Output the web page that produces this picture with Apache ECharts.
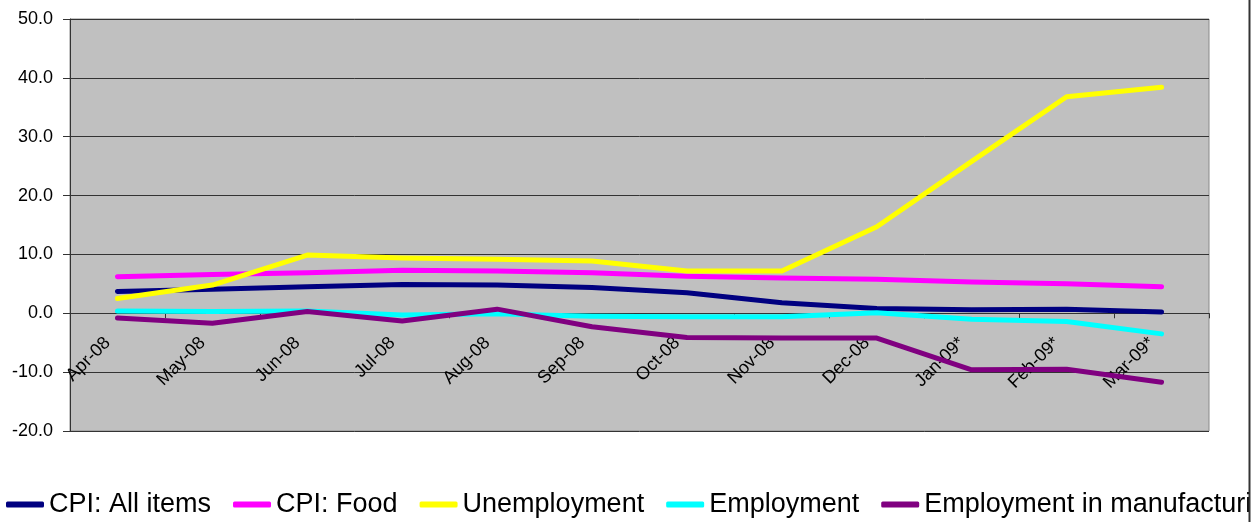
<!DOCTYPE html>
<html>
<head>
<meta charset="utf-8">
<script src="https://cdn.jsdelivr.net/npm/echarts@6/dist/echarts.min.js"></script>
<style>
html,body{margin:0;padding:0;background:#fff;}
#chart{width:1255px;height:522px;}
</style>
</head>
<body>
<div id="chart"></div>
<script>
const categories = ['Apr-08','May-08','Jun-08','Jul-08','Aug-08','Sep-08','Oct-08','Nov-08','Dec-08','Jan-09*','Feb-09*','Mar-09*'];
const cpiAll = [3.7, 4.1, 4.5, 4.9, 4.8, 4.4, 3.5, 1.8, 0.8, 0.6, 0.7, 0.2];
const cpiFood = [6.2, 6.6, 6.9, 7.3, 7.2, 6.9, 6.3, 6.0, 5.8, 5.3, 5.0, 4.5];
const unemployment = [2.5, 4.8, 9.9, 9.4, 9.2, 8.9, 7.2, 7.2, 14.7, 25.8, 36.8, 38.4];
const employment = [0.4, 0.3, 0.4, -0.3, -0.1, -0.5, -0.6, -0.6, 0.1, -1.0, -1.4, -3.5];
const employmentManuf = [-0.8, -1.7, 0.3, -1.3, 0.7, -2.3, -4.1, -4.2, -4.2, -9.6, -9.5, -11.7];
const yTickMin = -20, yTickMax = 50, yTickStep = 10;
const seriesNames = ['CPI: All items','CPI: Food','Unemployment','Employment','Employment in manufacturing'];
const seriesColors = ['#000080','#ff00ff','#ffff00','#00ffff','#800080'];
const seriesData = [cpiAll, cpiFood, unemployment, employment, employmentManuf];

const FONT = "'Liberation Sans', Arial, sans-serif";
const GRID_TOP = 19, GRID_BOTTOM = 91, H = 522;
const plotH = H - GRID_TOP - GRID_BOTTOM;
// move the category axis (with its labels) up to the zero line
const zeroOffset = -plotH * (0 - yTickMin) / (yTickMax - yTickMin);

const chart = echarts.init(document.getElementById('chart'), null, {renderer:'canvas'});
chart.setOption({
  animation: false,
  backgroundColor: '#ffffff',
  grid: {
    left: 70, top: GRID_TOP, right: 46, bottom: GRID_BOTTOM,
    show: true, backgroundColor: '#c0c0c0', borderColor: '#8a8a8a', borderWidth: 1
  },
  legend: {
    left: 6, top: 491, width: 3000, padding: 0,
    itemWidth: 38, itemHeight: 6, itemGap: 22,
    icon: 'roundRect',
    data: seriesNames,
    textStyle: {fontFamily: FONT, fontSize: 27, color: '#000'}
  },
  xAxis: {
    type: 'category',
    data: categories,
    boundaryGap: true,
    offset: zeroOffset,
    axisLine: {onZero: false, lineStyle: {color: '#333', width: 1}},
    axisTick: {show: true, interval: 0, length: 5, lineStyle: {color: '#333'}},
    axisLabel: {interval: 0, rotate: 45, margin: 17, padding: [0, 14, 0, 0], fontFamily: FONT, fontSize: 18, color: '#000'},
    splitLine: {show: false}
  },
  yAxis: {
    type: 'value',
    min: yTickMin, max: yTickMax, interval: yTickStep,
    axisLine: {show: true, lineStyle: {color: '#333', width: 1}},
    axisTick: {show: true, length: 7, lineStyle: {color: '#333'}},
    axisLabel: {margin: 17, fontFamily: FONT, fontSize: 18, color: '#000', formatter: v => v.toFixed(1)},
    splitLine: {show: true, lineStyle: {color: '#333', width: 1}}
  },
  series: seriesNames.map((n, i) => ({
    name: n,
    type: 'line',
    data: seriesData[i],
    symbol: 'none',
    color: seriesColors[i],
    lineStyle: {width: 5, color: seriesColors[i], cap: 'round', join: 'round'}
  })),
  graphic: [
    {type: 'rect', z: 100, shape: {x: 1250, y: 0, width: 10, height: 522}, style: {fill: '#ffffff'}},
    {type: 'line', z: 101, shape: {x1: 1249.5, y1: 0, x2: 1249.5, y2: 522}, style: {stroke: '#333', lineWidth: 2}}
  ]
});
</script>
</body>
</html>
